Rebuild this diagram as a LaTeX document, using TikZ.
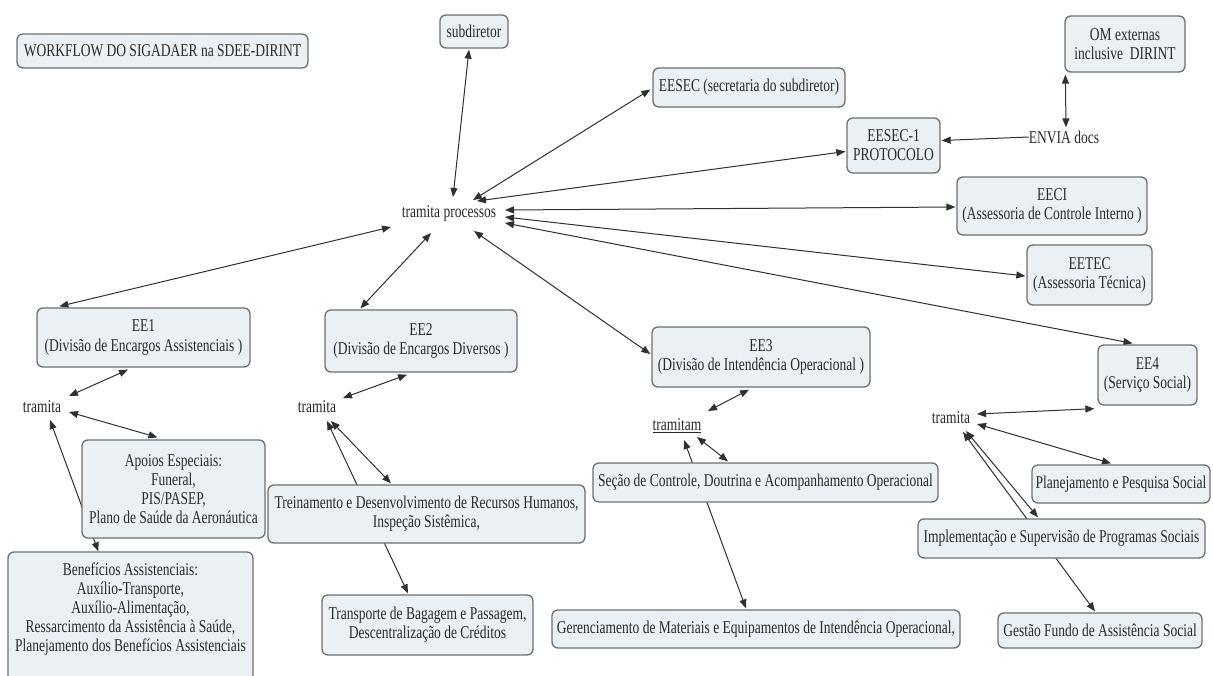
\documentclass[tikz,border=0pt]{standalone}
\usepackage{fontspec}
\setmainfont[FakeStretch=0.75]{Liberation Serif}
\usetikzlibrary{arrows.meta,calc,backgrounds}
\newcommand\dfont{\fontsize{18}{19.2}\selectfont}
\definecolor{boxfill}{HTML}{EAF0F3}
\definecolor{boxline}{HTML}{6F6F6F}
\definecolor{txt}{HTML}{2A2A2A}
\definecolor{conn}{HTML}{303030}
\begin{document}
\begin{tikzpicture}[x=1pt,y=-1pt,
  every node/.style={font=\dfont, text=txt},
  cbox/.style={draw=boxline, line width=1.3pt, fill=boxfill, rounded corners=6pt, inner sep=0pt, align=center},
  lphrase/.style={inner sep=0pt},
  biarrow/.style={draw=conn, line width=1pt, {Triangle[length=9pt,width=7pt]}-{Triangle[length=9pt,width=7pt]}},
  uniarrow/.style={draw=conn, line width=1pt, -{Triangle[length=9pt,width=7pt]}}]

\useasboundingbox (0,0) rectangle (1213,675);

% boxes
\node[cbox, minimum width=291pt, minimum height=34pt] (title) at (162.5,51) {WORKFLOW DO SIGADAER na SDEE-DIRINT};
\node[cbox, minimum width=68pt, minimum height=33pt] (subdir) at (474,31.5) {subdiretor};
\node[cbox, minimum width=192pt, minimum height=39pt] (eesec) at (749,87.5) {EESEC (secretaria do subdiretor)};
\node[cbox, minimum width=120pt, minimum height=56pt] (om) at (1125,44) {OM externas\\inclusive\ \ DIRINT};
\node[cbox, minimum width=93pt, minimum height=55pt] (eesec1) at (893.5,145.5) {EESEC-1\\PROTOCOLO};
\node[cbox, minimum width=190pt, minimum height=58pt] (eeci) at (1052,206) {EECI\\(Assessoria de Controle Interno )};
\node[cbox, minimum width=125pt, minimum height=60pt] (eetec) at (1089.5,275) {EETEC\\(Assessoria Técnica)};
\node[cbox, minimum width=213pt, minimum height=59pt] (ee1) at (143.5,337.5) {EE1\\(Divisão de Encargos Assistenciais )};
\node[cbox, minimum width=192pt, minimum height=62pt] (ee2) at (421,341) {EE2\\(Divisão de Encargos Diversos )};
\node[cbox, minimum width=218pt, minimum height=60pt] (ee3) at (761,357) {EE3\\(Divisão de Intendência Operacional )};
\node[cbox, minimum width=99pt, minimum height=60pt] (ee4) at (1147.5,375) {EE4\\(Serviço Social)};
\node[cbox, minimum width=183pt, minimum height=98pt] (apoios) at (173.5,489) {Apoios Especiais:\\Funeral,\\PIS/PASEP,\\Plano de Saúde da Aeronáutica};
\node[cbox, minimum width=245pt, minimum height=138pt] (benef) at (130.5,621) {};
\node[lphrase, align=center] (beneftxt) at (130.5,609) {Benefícios Assistenciais:\\Auxílio-Transporte,\\Auxílio-Alimentação,\\Ressarcimento da Assistência à Saúde,\\Planejamento dos Benefícios Assistenciais};
\node[cbox, minimum width=317pt, minimum height=58pt] (trein) at (426.5,514) {Treinamento e Desenvolvimento de Recursos Humanos,\\Inspeção Sistêmica,};
\node[cbox, minimum width=211pt, minimum height=60pt] (transp) at (427.5,625) {Transporte de Bagagem e Passagem,\\Descentralização de Créditos};
\node[cbox, minimum width=345pt, minimum height=39pt] (secao) at (765.5,482.5) {Seção de Controle, Doutrina e Acompanhamento Operacional};
\node[cbox, minimum width=408pt, minimum height=38pt] (geren) at (756,629) {Gerenciamento de Materiais e Equipamentos de Intendência Operacional,};
\node[cbox, minimum width=178pt, minimum height=38pt] (plan) at (1121,484) {Planejamento e Pesquisa Social};
\node[cbox, minimum width=287pt, minimum height=39pt] (impl) at (1061.5,538.5) {Implementação e Supervisão de Programas Sociais};
\node[cbox, minimum width=204pt, minimum height=35pt] (gestao) at (1100,630.5) {Gestão Fundo de Assistência Social};

% linking phrases
\node[lphrase] (tp) at (449,213) {tramita processos};
\node[lphrase] (envia) at (1064,137) {ENVIA docs};
\node[lphrase] (t1) at (42,407) {tramita};
\node[lphrase] (t2) at (317,407) {tramita};
\node[lphrase] (t3) at (677,426) {\underline{tramitam}};
\node[lphrase] (t4) at (951,418) {tramita};

\begin{scope}[on background layer]
\fill[white] (0,0) rectangle (1213,675);
% central hub
\draw[biarrow] ($(subdir.south)+(-5,1)$) -- ($(tp)+(4,-16)$);
\draw[biarrow] ($(eesec.west)+(-2,2)$) -- ($(tp)+(24,-13)$);
\draw[biarrow] ($(eesec1.west)+(-1,6)$) -- ($(tp)+(28,-12)$);
\draw[biarrow] ($(eeci.west)+(-1,1)$) -- ($(tp)+(56,-3)$);
\draw[biarrow] ($(eetec.west)+(-1,1)$) -- ($(tp)+(56,4)$);
\draw[biarrow] ($(ee4.north)+(-15,-1)$) -- ($(tp)+(56,10)$);
\draw[biarrow] ($(ee1.north west)+(23,-1)$) -- ($(tp)+(-58,14)$);
\draw[biarrow] ($(ee2.north west)+(36,-1)$) -- ($(tp)+(-18,20)$);
\draw[biarrow] ($(ee3.west)+(-1,-3)$) -- ($(tp)+(25,18)$);
% external
\draw[uniarrow] (envia.west) -- ($(eesec1.east)+(1,-5)$);
\draw[biarrow] ($(om.south west)+(1,2)$) -- ($(envia.north)+(2,-3)$);
% EE1
\draw[biarrow] ($(ee1.south)+(-15.5,2)$) -- ($(t1)+(27,-11)$);
\draw[biarrow] ($(t1)+(27,5)$) -- ($(apoios.north)+(-16,-2)$);
\draw[biarrow] ($(t1)+(8,13)$) -- ($(benef.north west)+(91,0)$);
% EE2
\draw[biarrow] ($(ee2.south)+(-14,2)$) -- ($(t2)+(26,-9)$);
\draw[biarrow] ($(t2)+(14,14)$) -- ($(trein.north)+(-35.5,-1)$);
\draw[biarrow] ($(t2)+(10,14)$) -- ($(transp.north)+(-19.5,-1)$);
% EE3
\draw[biarrow] ($(ee3.south)+(-12,2)$) -- ($(t3)+(31,-15)$);
\draw[biarrow] ($(t3)+(20,11)$) -- ($(secao.north)+(-37.5,-1)$);
\draw[biarrow] ($(t3)+(7,14)$) -- ($(geren.north)+(-10,-1)$);
% EE4
\draw[biarrow] ($(t4)+(26,-4)$) -- ($(ee4.south west)+(-3,3)$);
\draw[biarrow] ($(t4)+(26,6)$) -- ($(plan.north)+(-10,-1)$);
\draw[biarrow] ($(t4)+(15,13)$) -- ($(impl.north)+(-23.5,-1)$);
\draw[biarrow] ($(t4)+(12,14)$) -- ($(gestao.north)+(-5,-1)$);
\end{scope}
\end{tikzpicture}
\end{document}
